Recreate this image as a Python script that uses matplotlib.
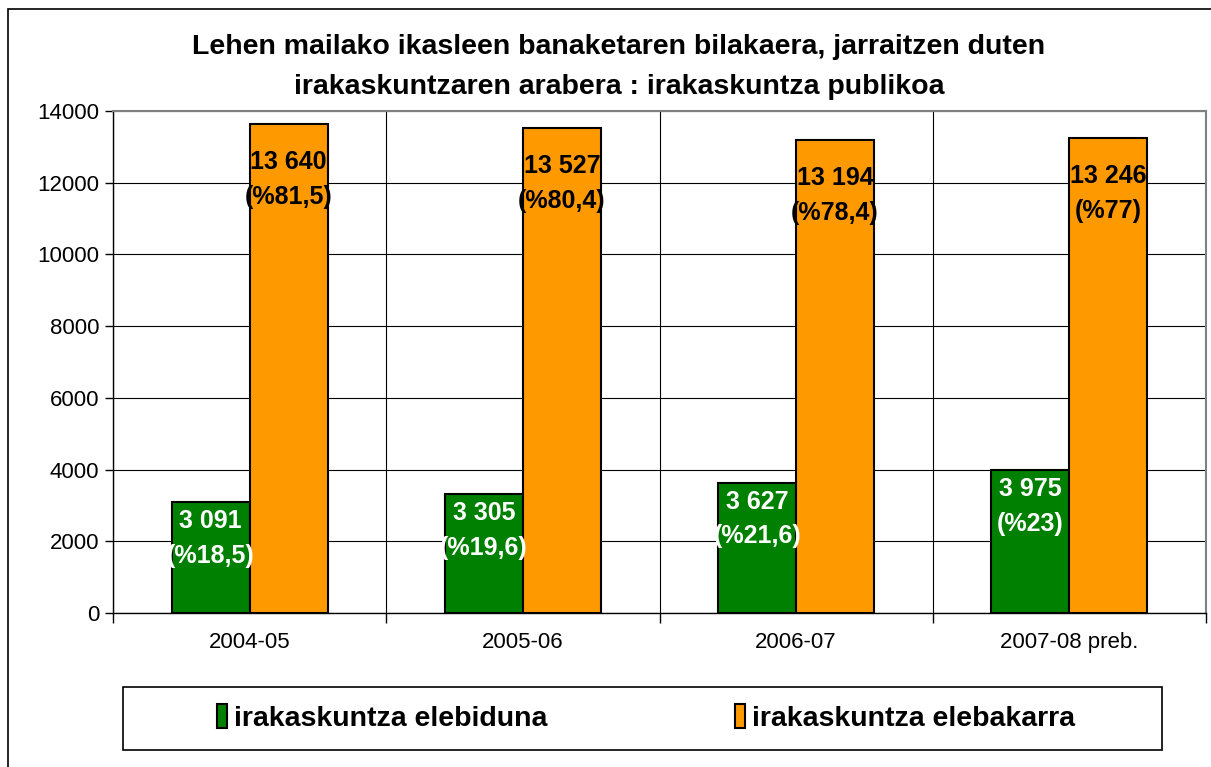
import numpy as np
import matplotlib.pyplot as plt
from matplotlib.patches import Rectangle

plt.rcParams['font.family'] = ['Liberation Sans', 'DejaVu Sans']

# Data
years = ['2004-05', '2005-06', '2006-07', '2007-08 preb.']
elebiduna = [3091, 3305, 3627, 3975]
elebakarra = [13640, 13527, 13194, 13246]
pct_elebiduna = ['18,5', '19,6', '21,6', '23']
pct_elebakarra = ['81,5', '80,4', '78,4', '77']
label_elebiduna = 'irakaskuntza elebiduna'
label_elebakarra = 'irakaskuntza elebakarra'
title1 = 'Lehen mailako ikasleen banaketaren bilakaera, jarraitzen duten'
title2 = 'irakaskuntzaren arabera : irakaskuntza publikoa'

green = '#008000'
orange = '#FF9900'

W, H = 1211, 767
fig = plt.figure(figsize=(W / 100, H / 100), dpi=100)
ax = fig.add_axes([113 / W, 1 - 613 / H, (1206 - 113) / W, (613 - 111) / H])

x = np.arange(len(years))
bw = 0.285
b1 = ax.bar(x - bw / 2, elebiduna, bw, color=green, edgecolor='black', linewidth=1.5,
            label=label_elebiduna, zorder=3)
b2 = ax.bar(x + bw / 2, elebakarra, bw, color=orange, edgecolor='black', linewidth=1.5,
            label=label_elebakarra, zorder=3)

def fmt(v):
    return f'{v:,}'.replace(',', ' ')

for xi, v, p in zip(x, elebiduna, pct_elebiduna):
    ax.annotate(f'{fmt(v)}\n(%{p})', (xi - bw / 2, v), xytext=(0, -5),
                textcoords='offset points', ha='center', va='top', color='white',
                fontsize=18, fontweight='bold', linespacing=1.55, zorder=4)
for xi, v, p in zip(x, elebakarra, pct_elebakarra):
    ax.annotate(f'{fmt(v)}\n(%{p})', (xi + bw / 2, v), xytext=(0, -19),
                textcoords='offset points', ha='center', va='top', color='black',
                fontsize=18, fontweight='bold', linespacing=1.55, zorder=4)

ax.set_xlim(-0.5, len(years) - 0.5)
ax.set_ylim(0, 14000)
ax.set_yticks(np.arange(0, 14001, 2000))
ax.set_xticks(x)
ax.set_xticklabels(years)
ax.set_xticks(np.arange(-0.5, len(years), 1), minor=True)
ax.tick_params(axis='x', which='major', length=0, pad=14, labelsize=16)
ax.tick_params(axis='x', which='minor', length=7, width=1, color='black')
ax.tick_params(axis='y', length=6, width=1, labelsize=16, pad=4)
ax.grid(axis='y', color='black', linewidth=0.8, zorder=0)
ax.grid(axis='x', which='minor', color='black', linewidth=0.8, zorder=0)
ax.set_axisbelow(True)
for s in ['top', 'right']:
    ax.spines[s].set_color('#808080')
    ax.spines[s].set_linewidth(1.5)
for s in ['left', 'bottom']:
    ax.spines[s].set_color('black')
    ax.spines[s].set_linewidth(1)

fig.text(619 / W, 1 - 47 / H, title1, ha='center', va='center', fontsize=20.5, fontweight='bold')
fig.text(619 / W, 1 - 87 / H, title2, ha='center', va='center', fontsize=20.5, fontweight='bold')

# outer chart frame
fig.patches.append(Rectangle((8 / W, -0.1), 1.2, 1 - 9 / H + 0.1, transform=fig.transFigure,
                             fill=False, edgecolor='black', linewidth=1.2))
# legend box
fig.patches.append(Rectangle((123 / W, 1 - 750 / H), (1162 - 123) / W, 63 / H,
                             transform=fig.transFigure, fill=False, edgecolor='black',
                             linewidth=1.2))
fig.legend(handles=[b1, b2], loc='center', bbox_to_anchor=(646 / W, 1 - 718 / H), ncol=2,
           frameon=False, prop={'weight': 'bold', 'size': 20.5},
           handlelength=0.35, handleheight=0.9, handletextpad=0.25, columnspacing=6.6)

fig.savefig('out.png', dpi=100)
